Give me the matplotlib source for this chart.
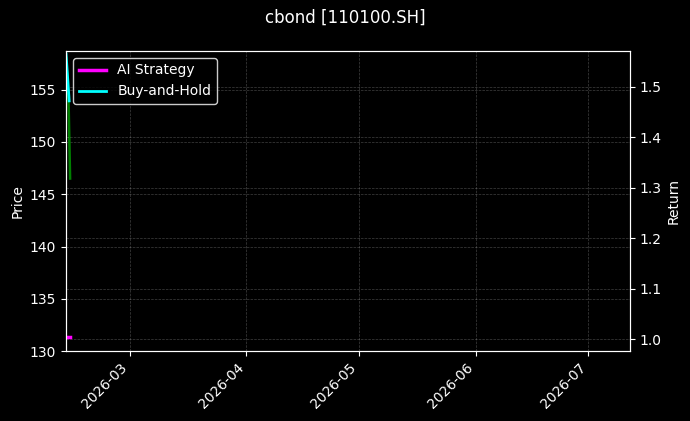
import pandas as pd
import matplotlib
matplotlib.use('Agg')
import matplotlib.pyplot as plt
import matplotlib.dates as mdates

plt.style.use('dark_background')

title = 'cbond [110100.SH]'

# price series (left axis)
price_dates = ['2026-02-12 00:00', '2026-02-12 16:00', '2026-02-13 02:00']
price = [158.0, 154.0, 146.5]

# equity curves (right axis)
ret_dates = ['2026-02-12 00:00', '2026-02-12 20:00']
ai_dates = ['2026-02-12 06:00', '2026-02-13 03:00']
ai_strategy = [1.003, 1.003]
buy_hold = [1.565, 1.472]

x_range = ['2026-02-12', '2026-07-12']

fig, ax = plt.subplots(figsize=(6.9, 4.21), dpi=100)
ax2 = ax.twinx()

ax.plot(pd.to_datetime(price_dates), price, color='green', lw=1.8)
ax2.plot(pd.to_datetime(ai_dates), ai_strategy, color='magenta', lw=2.5, label='AI Strategy')
ax2.plot(pd.to_datetime(ret_dates), buy_hold, color='cyan', lw=2, label='Buy-and-Hold')

ax.set_xlim(pd.to_datetime(x_range))
ax.set_ylim(130, 158.7)
ax2.set_ylim(0.976, 1.571)

ax.set_ylabel('Price')
ax2.set_ylabel('Return')
ax.grid(True, ls='--', lw=0.5, alpha=0.25)
ax2.grid(True, ls='--', lw=0.5, alpha=0.25)

ax.xaxis.set_major_locator(mdates.MonthLocator())
ax.xaxis.set_major_formatter(mdates.DateFormatter('%Y-%m'))
plt.setp(ax.get_xticklabels(), rotation=45, ha='right')

ax2.legend(loc='upper left', facecolor='black', edgecolor='white')
fig.suptitle(title, fontsize=12)
fig.subplots_adjust(left=0.0957, right=0.9126, top=0.879, bottom=0.166)

fig.savefig('out.png', dpi=100)
